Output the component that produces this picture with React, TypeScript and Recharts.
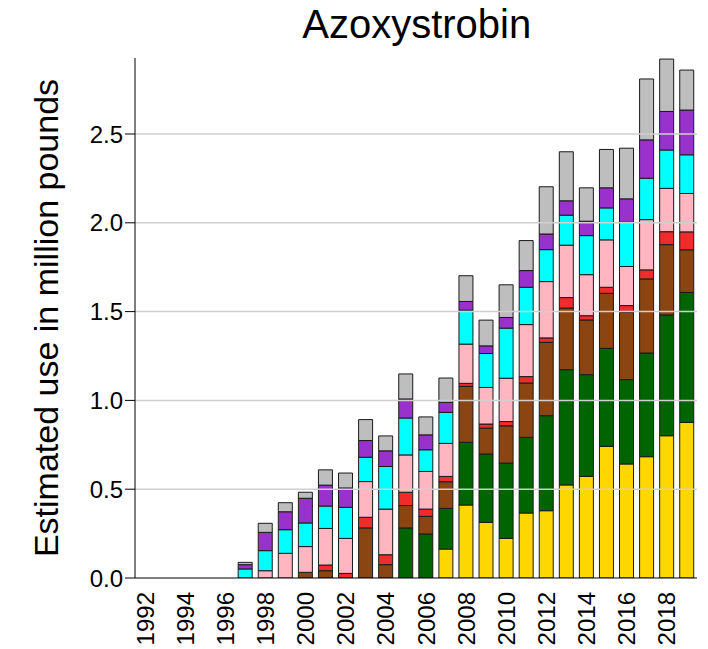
import React from 'react';
import { BarChart, Bar, XAxis, YAxis, ReferenceLine } from 'recharts';

const years = ['1992','1993','1994','1995','1996','1997','1998','1999','2000','2001','2002','2003','2004','2005','2006','2007','2008','2009','2010','2011','2012','2013','2014','2015','2016','2017','2018','2019'];

const yellow = [0,0,0,0,0,0,0,0,0,0,0,0,0,0,0,0.163,0.411,0.313,0.223,0.366,0.379,0.524,0.572,0.741,0.642,0.683,0.801,0.876];
const green = [0,0,0,0,0,0,0,0,0,0,0,0,0,0.282,0.248,0.229,0.353,0.385,0.424,0.426,0.535,0.649,0.573,0.552,0.475,0.584,0.680,0.732];
const brown = [0,0,0,0,0,0,0,0,0.032,0.041,0,0.282,0.075,0.126,0.099,0.150,0.315,0.146,0.210,0.306,0.413,0.347,0.308,0.310,0.379,0.417,0.396,0.240];
const red = [0,0,0,0,0,0,0,0,0,0.032,0.026,0.060,0.056,0.075,0.041,0.030,0.017,0.023,0.024,0.036,0.025,0.059,0.024,0.034,0.038,0.051,0.073,0.101];
const pink = [0,0,0,0,0,0,0.041,0.139,0.145,0.206,0.197,0.201,0.257,0.210,0.212,0.186,0.221,0.206,0.244,0.293,0.317,0.295,0.231,0.267,0.220,0.283,0.244,0.216];
const cyan = [0,0,0,0,0,0.051,0.113,0.133,0.133,0.126,0.175,0.137,0.240,0.208,0.122,0.175,0.191,0.191,0.282,0.210,0.180,0.169,0.220,0.180,0.249,0.233,0.216,0.218];
const purple = [0,0,0,0,0,0.024,0.103,0.101,0.139,0.118,0.109,0.094,0.088,0.107,0.084,0.056,0.049,0.043,0.060,0.094,0.088,0.081,0.081,0.113,0.132,0.216,0.217,0.252];
const gray = [0,0,0,0,0,0.013,0.051,0.051,0.034,0.086,0.084,0.118,0.084,0.141,0.101,0.137,0.145,0.145,0.184,0.169,0.266,0.276,0.188,0.216,0.285,0.343,0.295,0.225];

const yTicks = [0, 0.5, 1.0, 1.5, 2.0, 2.5];
const gridLines = [0.5, 1.0, 1.5, 2.0, 2.5];

const series = [
  { key: 'yellow', values: yellow, color: '#FFD700' },
  { key: 'green', values: green, color: '#006400' },
  { key: 'brown', values: brown, color: '#8B4513' },
  { key: 'red', values: red, color: '#EE2C2C' },
  { key: 'pink', values: pink, color: '#FFB6C1' },
  { key: 'cyan', values: cyan, color: '#00FFFF' },
  { key: 'purple', values: purple, color: '#9932CC' },
  { key: 'gray', values: gray, color: '#BEBEBE' },
];

const data = years.map((year, i) => {
  const row: any = { year };
  series.forEach((s) => { row[s.key] = s.values[i]; });
  return row;
});

const FONT = '"Liberation Sans", Arial, sans-serif';

const XTick = (props: any) => {
  const { x, payload } = props;
  const ty = 584;
  return (
    <text x={x} y={ty} transform={`rotate(-90 ${x} ${ty})`} textAnchor="end" dominantBaseline="central" fontSize={24} fontFamily={FONT} fill="#000">
      {payload.value}
    </text>
  );
};

const YLabel = () => (
  <text x={38} y={310} transform="rotate(-90 38 310)" textAnchor="middle" dominantBaseline="central" fontSize={34} fontFamily={FONT} fill="#000">
    Estimated use in million pounds
  </text>
);

export default function App() {
  return (
    <div style={{ position: 'relative', width: 700, height: 641 }}>
      <BarChart width={700} height={641} data={data} margin={{ top: 50, right: 11, left: 0, bottom: 0 }} barCategoryGap="14%">
        <XAxis dataKey="year" interval={1} tickLine={false} axisLine={{ stroke: '#000', strokeWidth: 1 }} height={71} tick={<XTick />} />
        <XAxis xAxisId="top" dataKey="year" orientation="top" height={0} tick={false} tickLine={false} axisLine={{ stroke: '#000', strokeWidth: 1 }} />
        <YAxis domain={[0, 2.928]} ticks={yTicks} width={127} tickSize={10} tickMargin={2} tickFormatter={(v: number) => v.toFixed(1)} tick={{ fontSize: 24, fontFamily: FONT, fill: '#000' }} tickLine={{ stroke: '#000' }} axisLine={{ stroke: '#000', strokeWidth: 1 }} allowDataOverflow label={<YLabel />} />
        <YAxis yAxisId="right" orientation="right" width={0} tick={false} tickLine={false} axisLine={{ stroke: '#000', strokeWidth: 1 }} />
        {series.map((s) => (
          <Bar key={s.key} dataKey={s.key} stackId="a" fill={s.color} stroke="#1a1a1a" strokeWidth={1} isAnimationActive={false} />
        ))}
        {gridLines.map((g) => (
          <ReferenceLine key={g} y={g} stroke="#cfcfcf" strokeWidth={1.5} />
        ))}
      </BarChart>
      <svg width={700} height={70} style={{ position: 'absolute', left: 0, top: -8, pointerEvents: 'none', overflow: 'visible' }}>
        <text x={408.7} y={38} textAnchor="middle" fontSize={40} fontFamily={FONT} fill="#000">Azoxystrobin</text>
      </svg>
    </div>
  );
}
